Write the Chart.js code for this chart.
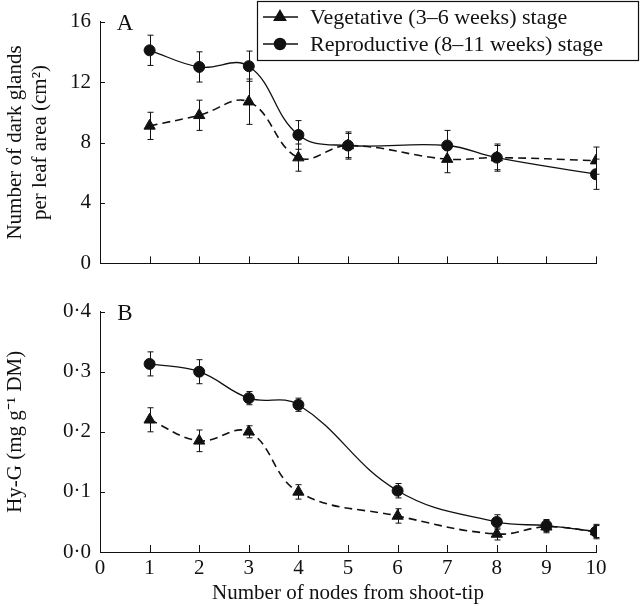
<!DOCTYPE html>
<html><head><meta charset="utf-8">
<script src="https://cdn.jsdelivr.net/npm/chart.js@4/dist/chart.umd.min.js"></script>
<style>
html,body{margin:0;padding:0;background:#fff;}
#wa{position:absolute;left:0;top:0;width:640px;height:285px;}
#wb{position:absolute;left:0;top:290px;width:640px;height:316px;}
</style></head><body>
<div id="wa"><canvas id="ca" width="640" height="285"></canvas></div>
<div id="wb"><canvas id="cb" width="640" height="316"></canvas></div>
<script>
// Panel A data
const nodesA = [1, 2, 3, 4, 5, 7, 8, 10];
const vegA = [9.1, 9.8, 10.7, 7.0, 7.8, 6.9, 7.0, 6.8];
const vegAErr = [0.9, 1.0, 1.5, 0.9, 0.8, 0.9, 0.9, 0.9];
const repA = [14.1, 13.0, 13.05, 8.5, 7.8, 7.8, 7.0, 5.9];
const repAErr = [1.0, 1.0, 1.0, 0.95, 0.9, 1.0, 0.8, 1.0];
// Panel B data
const nodesB = [1, 2, 3, 4, 6, 8, 9, 10];
const vegB = [0.22, 0.185, 0.2, 0.1, 0.06, 0.03, 0.042, 0.034];
const vegBErr = [0.02, 0.018, 0.01, 0.012, 0.012, 0.01, 0.01, 0.01];
const repB = [0.313, 0.3, 0.256, 0.245, 0.102, 0.05, 0.044, 0.034];
const repBErr = [0.02, 0.02, 0.011, 0.011, 0.012, 0.012, 0.01, 0.012];
const xTicks = [0, 1, 2, 3, 4, 5, 6, 7, 8, 9, 10];
const legendLabels = ['Vegetative (3\u20136 weeks) stage', 'Reproductive (8\u201311 weeks) stage'];

const FONT = 'Liberation Serif, Times New Roman, serif';
const INK = '#111';
const FS = 21;

function pts(xs, ys){ return xs.map((x,i)=>({x:x, y:ys[i]})); }

const errPlugin = {
  id: 'errbars',
  beforeDatasetsDraw(chart){
    const ctx = chart.ctx, xs = chart.scales.x, ys = chart.scales.y;
    ctx.save(); ctx.strokeStyle = INK; ctx.lineWidth = 1;
    chart.data.datasets.forEach(ds => {
      ds.data.forEach((p,i) => {
        const e = ds.errors[i];
        const px = Math.round(xs.getPixelForValue(p.x)) + 0.5;
        const y1 = ys.getPixelForValue(p.y + e), y2 = ys.getPixelForValue(p.y - e);
        ctx.beginPath();
        ctx.moveTo(px, y1); ctx.lineTo(px, y2);
        ctx.moveTo(px-3, y1); ctx.lineTo(px+3, y1);
        ctx.moveTo(px-3, y2); ctx.lineTo(px+3, y2);
        ctx.stroke();
      });
    });
    ctx.restore();
  }
};

function tickPlugin(label){
  return {
    id: 'inticks',
    afterDraw(chart){
      const ctx = chart.ctx, xs = chart.scales.x, ys = chart.scales.y, a = chart.chartArea;
      ctx.save(); ctx.strokeStyle = INK; ctx.lineWidth = 1;
      ctx.beginPath();
      xTicks.forEach(v => { if (v === 0) return; const px = Math.round(xs.getPixelForValue(v)) + 0.5; ctx.moveTo(px, a.bottom); ctx.lineTo(px, a.bottom - 7); });
      ys.ticks.forEach(t => { const py = Math.round(ys.getPixelForValue(t.value)) + 0.5; ctx.moveTo(a.left, py); ctx.lineTo(a.left + 5, py); });
      ctx.stroke();
      ctx.fillStyle = INK; ctx.font = '23px ' + FONT; ctx.textAlign = 'center'; ctx.textBaseline = 'middle';
      ctx.fillText(label, a.left + 25, a.top + 2);
      ctx.restore();
    }
  };
}

const legendPlugin = {
  id: 'customLegend',
  afterDraw(chart){
    const ctx = chart.ctx;
    ctx.save();
    ctx.fillStyle = '#fff'; ctx.fillRect(257, 1, 381, 60);
    ctx.strokeStyle = INK; ctx.lineWidth = 1.2; ctx.strokeRect(257.5, 1.5, 381, 59);
    const rows = [{y: 17, style: 'triangle'}, {y: 44, style: 'circle'}];
    rows.forEach((r,i) => {
      ctx.strokeStyle = INK; ctx.lineWidth = 1.5; ctx.setLineDash([]);
      ctx.beginPath(); ctx.moveTo(263, r.y); ctx.lineTo(298, r.y); ctx.stroke();
      ctx.fillStyle = INK;
      Chart.helpers.drawPoint(ctx, {pointStyle: r.style, radius: r.style === 'triangle' ? 6.5 : 5.5, rotation: 0, borderWidth: 1}, 280, r.y);
      ctx.fillStyle = INK; ctx.font = '22px ' + FONT; ctx.textAlign = 'left'; ctx.textBaseline = 'middle';
      ctx.fillText(legendLabels[i], 310, r.y + 1);
    });
    ctx.restore();
  }
};

function ds(label, xs, ys, err, style, dash){
  return {
    label: label, data: pts(xs, ys), errors: err,
    borderColor: INK, backgroundColor: INK, borderWidth: dash ? 1.6 : 1.3,
    borderDash: dash ? [8, 5] : [], tension: 0.4,
    pointStyle: style, pointRadius: style === 'triangle' ? 6.5 : 5.5,
    pointBackgroundColor: INK, pointBorderColor: INK, pointBorderWidth: 1
  };
}

function yTitleOpts(text){
  return { display: true, text: text, color: INK, font: {family: FONT, size: FS, lineHeight: 1.2}, padding: {top: 3, bottom: 0} };
}

Chart.defaults.animation = false;

new Chart(document.getElementById('ca'), {
  type: 'line',
  data: { datasets: [
    ds(legendLabels[0], nodesA, vegA, vegAErr, 'triangle', true),
    ds(legendLabels[1], nodesA, repA, repAErr, 'circle', false)
  ]},
  options: {
    responsive: false, animation: false,
    layout: { padding: {top: 21, bottom: 20, right: 44, left: 0} },
    plugins: { legend: {display: false}, tooltip: {enabled: false} },
    scales: {
      x: { type: 'linear', min: 0, max: 10,
           ticks: {display: false, stepSize: 1},
           grid: {display: false, drawTicks: false},
           border: {display: true, color: INK, width: 1},
           afterFit: s => { s.height = 0; } },
      y: { min: 0, max: 16,
           ticks: {stepSize: 4, color: INK, font: {family: FONT, size: FS}, padding: 9},
           grid: {display: false, drawTicks: false},
           border: {display: true, color: INK, width: 1},
           title: yTitleOpts(['Number of dark glands', 'per leaf area (cm\u00B2)']),
           afterFit: s => { s.width = 100; } }
    }
  },
  plugins: [errPlugin, tickPlugin('A'), legendPlugin]
});

new Chart(document.getElementById('cb'), {
  type: 'line',
  data: { datasets: [
    ds(legendLabels[0], nodesB, vegB, vegBErr, 'triangle', true),
    ds(legendLabels[1], nodesB, repB, repBErr, 'circle', false)
  ]},
  options: {
    responsive: false, animation: false,
    layout: { padding: {top: 21, bottom: 0, right: 44, left: 0} },
    plugins: { legend: {display: false}, tooltip: {enabled: false} },
    scales: {
      x: { type: 'linear', min: 0, max: 10,
           ticks: {stepSize: 1, color: INK, font: {family: FONT, size: FS}, padding: 4, maxRotation: 0},
           grid: {display: false, drawTicks: false},
           border: {display: true, color: INK, width: 1},
           title: {display: true, text: 'Number of nodes from shoot-tip', color: INK, font: {family: FONT, size: FS}, padding: {top: 0, bottom: 0}},
           afterFit: s => { s.height = 54; } },
      y: { min: 0, max: 0.4,
           ticks: {stepSize: 0.1, color: INK, font: {family: FONT, size: FS}, padding: 9,
                   callback: v => v.toFixed(1).replace('.', '\u00B7')},
           grid: {display: false, drawTicks: false},
           border: {display: true, color: INK, width: 1},
           title: yTitleOpts('Hy-G (mg g\u207B\u00B9 DM)'),
           afterFit: s => { s.width = 100; } }
    }
  },
  plugins: [errPlugin, tickPlugin('B')]
});
</script>
</body></html>
